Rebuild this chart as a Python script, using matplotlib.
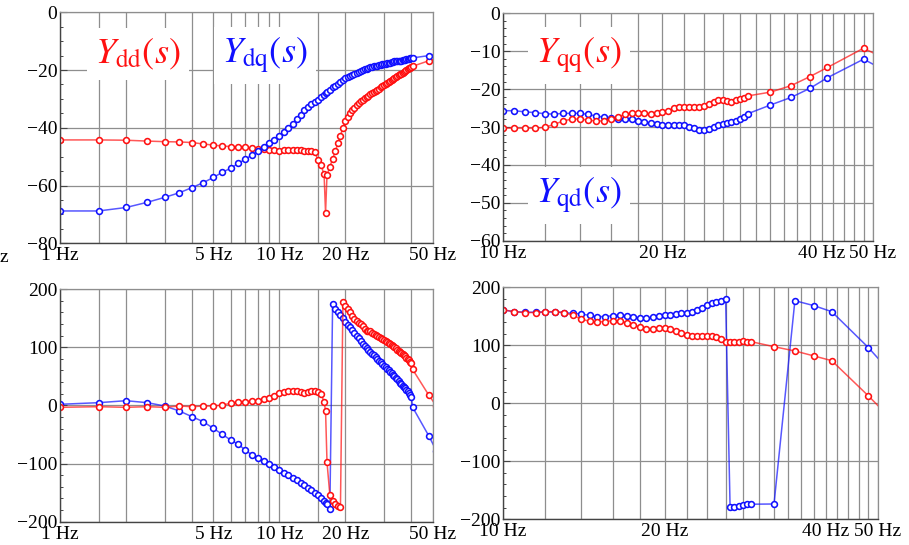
import matplotlib
matplotlib.use('Agg')
import matplotlib.pyplot as plt
from matplotlib.ticker import MultipleLocator, NullLocator

plt.rcParams['font.family'] = ['Liberation Serif', 'DejaVu Serif']
plt.rcParams['mathtext.fontset'] = 'stix'

# ---- data ----
# left panels: 1..40.5 Hz in 0.5 Hz steps (+ one point at the notch), then 48 and 52 Hz
f_lo = [1, 1.5, 2, 2.5, 3, 3.5, 4, 4.5, 5, 5.5, 6, 6.5, 7, 7.5, 8, 8.5, 9, 9.5, 10,
        10.5, 11, 11.5, 12, 12.5, 13, 13.5, 14, 14.5, 15, 15.5, 16, 16.25, 16.5, 17,
        17.5, 18, 18.5, 19, 19.5, 20, 20.5, 21, 21.5, 22, 22.5, 23, 23.5, 24, 24.5,
        25, 25.5, 26, 26.5, 27, 27.5, 28, 28.5, 29, 29.5, 30, 30.5, 31, 31.5, 32,
        32.5, 33, 33.5, 34, 34.5, 35, 35.5, 36, 36.5, 37, 37.5, 38, 38.5, 39, 39.5,
        40, 40.5, 48, 52]

ydd_mag = [-44.2, -44.2, -44.3, -44.6, -44.8, -44.9, -45.1, -45.6, -46.0, -46.3,
           -46.5, -46.7, -46.8, -47.0, -47.2, -47.5, -47.6, -47.8, -47.9, -47.8,
           -47.7, -47.6, -47.6, -47.8, -47.9, -47.9, -48.0, -48.4, -51.0, -53.0,
           -56.1, -69.4, -56.3, -53.5, -50.8, -48.2, -45.3, -42.7, -40.0, -37.8,
           -36.2, -35.0, -33.9, -33.0, -32.1, -31.3, -30.8, -30.3, -29.8, -29.3,
           -28.9, -28.4, -28.0, -27.6, -27.2, -26.8, -26.4, -26.0, -25.6, -25.2,
           -24.9, -24.5, -24.1, -23.8, -23.4, -23.1, -22.8, -22.5, -22.2, -21.8,
           -21.5, -21.2, -20.9, -20.6, -20.3, -20.0, -19.7, -19.4, -19.2, -18.9,
           -18.7, -16.8, -16.1]

ydq_mag = [-68.8, -68.8, -67.6, -65.8, -64.1, -62.5, -60.7, -59.0, -57.2, -55.4,
           -54.0, -52.3, -50.9, -49.4, -47.9, -46.5, -45.4, -44.3, -43.0, -41.6,
           -40.1, -38.6, -37.0, -35.4, -34.0, -32.8, -31.8, -31.0, -30.2, -29.4,
           -28.5, -28.1, -27.6, -26.8, -26.0, -25.4, -24.7, -24.0, -23.4, -22.8,
           -22.5, -22.2, -21.7, -21.3, -21.0, -20.7, -20.3, -20.0, -19.8, -19.6,
           -19.3, -19.1, -18.9, -18.7, -18.6, -18.5, -18.4, -18.2, -18.0, -17.9,
           -17.8, -17.6, -17.5, -17.4, -17.3, -17.1, -17.0, -17.0, -16.9, -16.9,
           -16.8, -16.7, -16.6, -16.5, -16.4, -16.3, -16.2, -16.1, -16.0, -15.9,
           -15.8, -15.0, -14.6]

ydd_ph = [-3.4, -2.3, -3.4, -2.3, -3.4, -1.1, -2.3, -1.1, -1.1, 0.6,
          3.4, 5.2, 6.3, 7.5, 7.5, 10.3, 13.2, 16.6, 20.7, 23.5,
          24.6, 24.6, 24.6, 23.5, 21.8, 23.5, 25.2, 25.2, 23.0, 19.5,
          6.3, -9.2, -98.0, -154.0, -164.0, -170.0, -173.0, -175.5, 177.0, 171.0,
          166.0, 160.0, 153.0, 148.5, 144.5, 141.0, 139.0, 136.5, 132.0, 128.0,
          128.5, 127.0, 124.5, 122.5, 120.5, 119.0, 117.5, 115.5, 114.0, 112.5,
          111.0, 109.0, 107.0, 105.5, 103.5, 101.5, 100.0, 98.0, 96.0, 94.0,
          92.0, 90.0, 88.0, 86.0, 84.0, 82.0, 79.5, 77.5, 75.0, 73.0,
          62.0, 17.8, -1.0]

ydq_ph = [1.8, 4.6, 8.0, 4.6, -1.1, -9.7, -19.5, -28.1, -39.5, -49.9,
          -59.6, -67.0, -76.8, -85.4, -90.0, -95.7, -101.4, -106.5, -111.1, -116.8,
          -120.5, -124.5, -129.0, -133.5, -137.5, -141.5, -145.5, -150.0, -154.5, -159.5,
          -164.5, -167.0, -170.0, -178.5, 173.5, 166.0, 161.0, 155.5, 149.5, 144.0,
          138.5, 134.0, 129.0, 124.0, 119.5, 115.0, 111.0, 106.0, 102.0, 98.0,
          95.0, 92.0, 89.0, 86.0, 83.0, 80.0, 77.0, 74.0, 71.0, 68.5,
          66.0, 63.0, 60.5, 58.0, 55.0, 52.5, 50.0, 47.0, 44.5, 42.0,
          39.0, 36.5, 34.0, 31.5, 29.0, 26.5, 24.0, 21.0, 18.0, 15.0,
          -3.0, -52.2, -77.9]

# right panels: 10..29 Hz in 0.5 Hz steps, then sparse points
f_hi = [10, 10.5, 11, 11.5, 12, 12.5, 13, 13.5, 14, 14.5, 15, 15.5, 16, 16.5, 17,
        17.5, 18, 18.5, 19, 19.5, 20, 20.5, 21, 21.5, 22, 22.5, 23, 23.5, 24, 24.5,
        25, 25.5, 26, 26.5, 27, 27.5, 28, 28.5, 29, 32, 35, 38, 41, 48, 52]

yqq_mag = [-30.3, -30.3, -30.3, -30.3, -30.1, -29.3, -28.4, -27.9, -27.9, -28.2,
           -28.4, -28.4, -27.8, -27.3, -26.7, -26.4, -26.2, -26.4, -26.6, -26.4,
           -26.1, -25.7, -25.1, -24.7, -24.6, -24.6, -24.7, -24.7, -24.5, -23.8,
           -23.4, -23.0, -22.9, -23.1, -23.3, -23.0, -22.7, -22.4, -21.8,
           -20.8, -19.1, -16.7, -14.3, -9.2, -11.6]

yqd_mag = [-25.7, -25.7, -26.0, -26.2, -26.5, -26.6, -26.4, -26.4, -26.4, -26.7,
           -27.1, -27.4, -27.7, -27.8, -27.8, -28.0, -28.3, -28.6, -29.0, -29.2,
           -29.4, -29.6, -29.6, -29.5, -29.6, -29.9, -30.3, -30.7, -30.8, -30.6,
           -30.0, -29.6, -29.3, -29.0, -28.7, -28.3, -27.9, -27.3, -26.5,
           -24.2, -22.2, -19.8, -17.0, -12.1, -14.7]

yqq_ph = [161, 158, 156.5, 156.5, 158, 158, 156.5, 151.5, 145, 141.5,
          140.5, 141, 142.5, 142, 139, 135.5, 131.5, 127.5, 127.5, 129.5,
          129.5, 128, 124.5, 121, 118, 116.5, 116, 116, 116, 115.5,
          113.8, 110.3, 106.3, 105.2, 105.2, 106.3, 108.0, 106.3, 106.3,
          97.6, 90.2, 81.6, 73.5, 12.6, -20.1]

yqd_ph = [161, 158, 157, 157, 157.5, 157.5, 156.5, 155, 154, 151.5,
          149.5, 149.5, 151, 152, 151, 149.5, 147, 146.5, 148, 150,
          151.5, 153, 154, 155, 156.5, 158, 161, 165, 169.5, 173.5,
          175.2, 177, 179, -178, -178, -176.5, -174.5, -174, -174,
          -173.6, 176.9, 168.3, 158, 95.9, 60]

grid_lo = [1, 1.5, 2, 3, 4, 5, 6, 7, 8, 9, 10, 15, 20, 30, 40, 50]
lab_lo = {1: '1 Hz', 5: '5 Hz', 10: '10 Hz', 20: '20 Hz', 50: '50 Hz'}
grid_hi = [10, 12, 14, 16, 18, 20, 22, 24, 26, 28, 30, 32, 34, 36, 38, 40, 42, 44, 46, 48, 50]
lab_hi = {10: '10 Hz', 20: '20 Hz', 40: '40 Hz', 50: '50 Hz'}

RED = '#ff1010'
BLUE = '#1010ff'
W, H = 909, 545
TICK_FS = 14


def px_axes(x0, y0, x1, y1):
    # pixel box (top-left origin) -> figure fraction
    return fig.add_axes([x0 / W, 1 - y1 / H, (x1 - x0) / W, (y1 - y0) / H])


def style(ax, grid, labels, xlim, ylim, major, minor):
    ax.set_xscale('log')
    ax.set_xlim(*xlim)
    ax.set_xticks(grid)
    ax.set_xticklabels([labels.get(g, '') for g in grid])
    ax.xaxis.set_minor_locator(NullLocator())
    ax.tick_params(axis='x', length=0, pad=3, labelsize=TICK_FS)
    ax.set_ylim(*ylim)
    ax.yaxis.set_major_locator(MultipleLocator(major))
    ax.yaxis.set_minor_locator(MultipleLocator(minor))
    ax.tick_params(axis='y', which='major', direction='in', length=5, width=0.8,
                   color='#444444', pad=2, labelsize=TICK_FS)
    ax.tick_params(axis='y', which='minor', direction='in', length=2.5, width=0.7,
                   color='#444444')
    ax.grid(True, which='major', color='#8e8e8e', lw=0.9)
    ax.set_axisbelow(True)
    for s in ('left', 'bottom'):
        ax.spines[s].set_color('#444444')
        ax.spines[s].set_linewidth(1.0)
    for s in ('top', 'right'):
        ax.spines[s].set_color('#8e8e8e')
        ax.spines[s].set_linewidth(0.9)


def series(ax, f, v, c):
    ax.plot(f, v, '-', color=c, lw=1.1, alpha=0.7)
    ax.plot(f, v, 'o', ls='none', mfc='white', mec=c, ms=4.2, mew=1.15)


fig = plt.figure(figsize=(W / 100, H / 100), dpi=100)

ax1 = px_axes(60, 12.3, 432.6, 243.3)
style(ax1, grid_lo, lab_lo, (1, 50), (-80, 0), 20, 5)
series(ax1, f_lo, ydd_mag, RED)
series(ax1, f_lo, ydq_mag, BLUE)

ax2 = px_axes(503, 13.3, 873, 240.7)
style(ax2, grid_hi, lab_hi, (10, 50), (-60, 0), 10, 2)
series(ax2, f_hi, yqd_mag, BLUE)
series(ax2, f_hi, yqq_mag, RED)

ax3 = px_axes(60, 289, 432.6, 521.7)
style(ax3, grid_lo, lab_lo, (1, 50), (-200, 200), 100, 20)
series(ax3, f_lo, ydq_ph, BLUE)
series(ax3, f_lo, ydd_ph, RED)

ax4 = px_axes(503, 287.3, 878, 519.3)
style(ax4, grid_hi, lab_hi, (10, 50), (-200, 200), 100, 20)
series(ax4, f_hi, yqd_ph, BLUE)
series(ax4, f_hi, yqq_ph, RED)

box = dict(facecolor='white', edgecolor='none', pad=6)
fig.text(95 / W, 1 - 63 / H, r'$Y_{\mathrm{dd}}(s)$', color=RED, fontsize=26,
         ha='left', va='baseline', bbox=box)
fig.text(222 / W, 1 - 63 / H, r'$Y_{\mathrm{dq}}(s)$', color=BLUE, fontsize=26,
         ha='left', va='baseline', bbox=box)
fig.text(536 / W, 1 - 63 / H, r'$Y_{\mathrm{qq}}(s)$', color=RED, fontsize=26,
         ha='left', va='baseline', bbox=box)
fig.text(536 / W, 1 - 203 / H, r'$Y_{\mathrm{qd}}(s)$', color=BLUE, fontsize=26,
         ha='left', va='baseline', bbox=box)

# clipped fragment of a neighbouring label at the far left edge
fig.text(0.0, 1 - 262 / H, 'z', fontsize=TICK_FS, ha='left', va='baseline')

fig.savefig('out.png', dpi=100)
plt.close(fig)
